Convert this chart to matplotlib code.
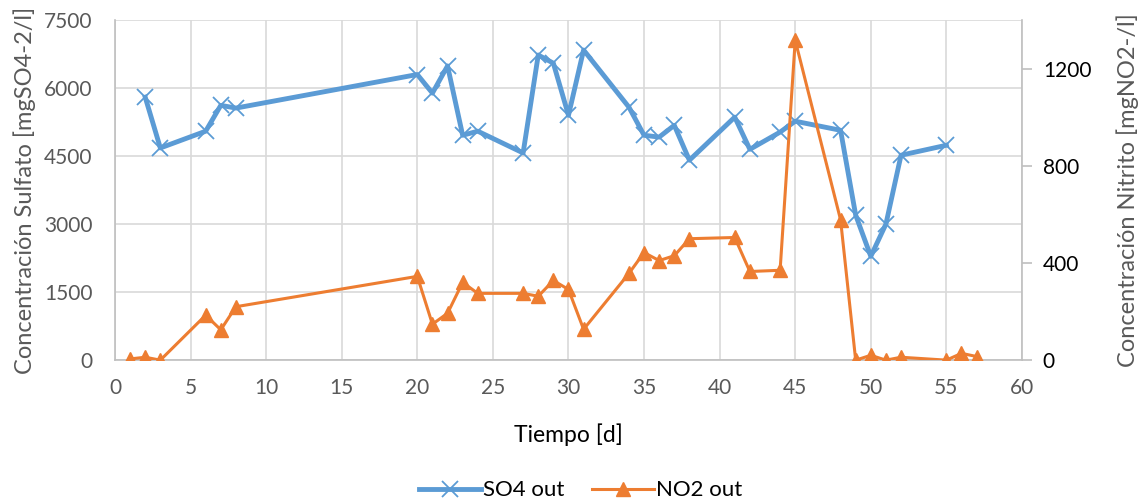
import matplotlib.pyplot as plt

# -----------------------------
# Data
# -----------------------------
t_so4 = [2, 3, 6, 7, 8, 20, 21, 22, 23, 24, 27, 28, 29, 30, 31, 34, 35, 36, 37, 38,
         41, 42, 44, 45, 48, 49, 50, 51, 52, 55]
so4 = [5800, 4680, 5050, 5620, 5560, 6300, 5890, 6490, 4960, 5050, 4570, 6730, 6550,
       5400, 6840, 5580, 4960, 4920, 5180, 4410, 5360, 4650, 5030, 5270, 5070, 3200,
       2290, 3000, 4520, 4740]

t_no2 = [1, 2, 3, 6, 7, 8, 20, 21, 22, 23, 24, 27, 28, 29, 30, 31, 34, 35, 36, 37, 38,
         41, 42, 44, 45, 48, 49, 50, 51, 52, 55, 56, 57]
no2 = [5, 12, 0, 185, 125, 220, 345, 148, 193, 320, 275, 275, 263, 328, 291, 127, 357,
       443, 410, 430, 500, 505, 365, 370, 1317, 578, 0, 20, 0, 12, 0, 28, 15]

blue = "#5B9BD5"
orange = "#ED7D31"
grey = "#595959"

plt.rcParams["font.family"] = ["Lato", "DejaVu Sans"]

fig = plt.figure(figsize=(11.43, 5.03), dpi=100)
ax = fig.add_axes([0.1006, 0.284, 0.7935, 0.676])
ax2 = ax.twinx()

ax.plot(t_so4, so4, color=blue, lw=3.5, marker="x", ms=11, mew=1.3,
        label="SO4 out", zorder=3)
ax2.plot(t_no2, no2, color=orange, lw=2.2, marker="^", ms=10,
         label="NO2 out", zorder=3)

ax.set_xlim(0, 60)
ax.set_ylim(0, 7500)
ax.set_xticks(range(0, 61, 5))
ax.set_yticks(range(0, 7501, 1500))
ax2.set_ylim(0, 1400)
ax2.set_yticks([0, 400, 800, 1200])

ax.grid(True, color="#D9D9D9", lw=1.2)
ax.set_axisbelow(True)

for a in (ax, ax2):
    a.spines["top"].set_visible(False)
    for s in ("left", "bottom", "right"):
        a.spines[s].set_color("#BFBFBF")
        a.spines[s].set_linewidth(1.2)
    a.tick_params(colors=grey, labelsize=15, length=0)
ax.tick_params(axis="x", pad=13)
ax.tick_params(axis="y", pad=16)
ax2.tick_params(axis="y", length=7, color="#BFBFBF", width=1.2, labelcolor="black", pad=8)
ax.spines["right"].set_visible(False)
ax2.spines["left"].set_visible(False)
ax2.spines["bottom"].set_visible(False)

ax.set_xlabel("Tiempo [d]", fontsize=16.5, color="black", labelpad=18)
ax.set_ylabel("Concentración Sulfato [mgSO4-2/l]", fontsize=17, color=grey, labelpad=6)
ax2.set_ylabel("Concentración Nitrito [mgNO2-/l]", fontsize=17, color=grey, labelpad=18)

h1, l1 = ax.get_legend_handles_labels()
h2, l2 = ax2.get_legend_handles_labels()
fig.legend(h1 + h2, l1 + l2, loc="center", bbox_to_anchor=(0.508, 0.025), ncol=2,
           frameon=False, fontsize=16, handlelength=2.8, columnspacing=1.2,
           handletextpad=0.1)

plt.savefig("out.png", dpi=100)
plt.close()
